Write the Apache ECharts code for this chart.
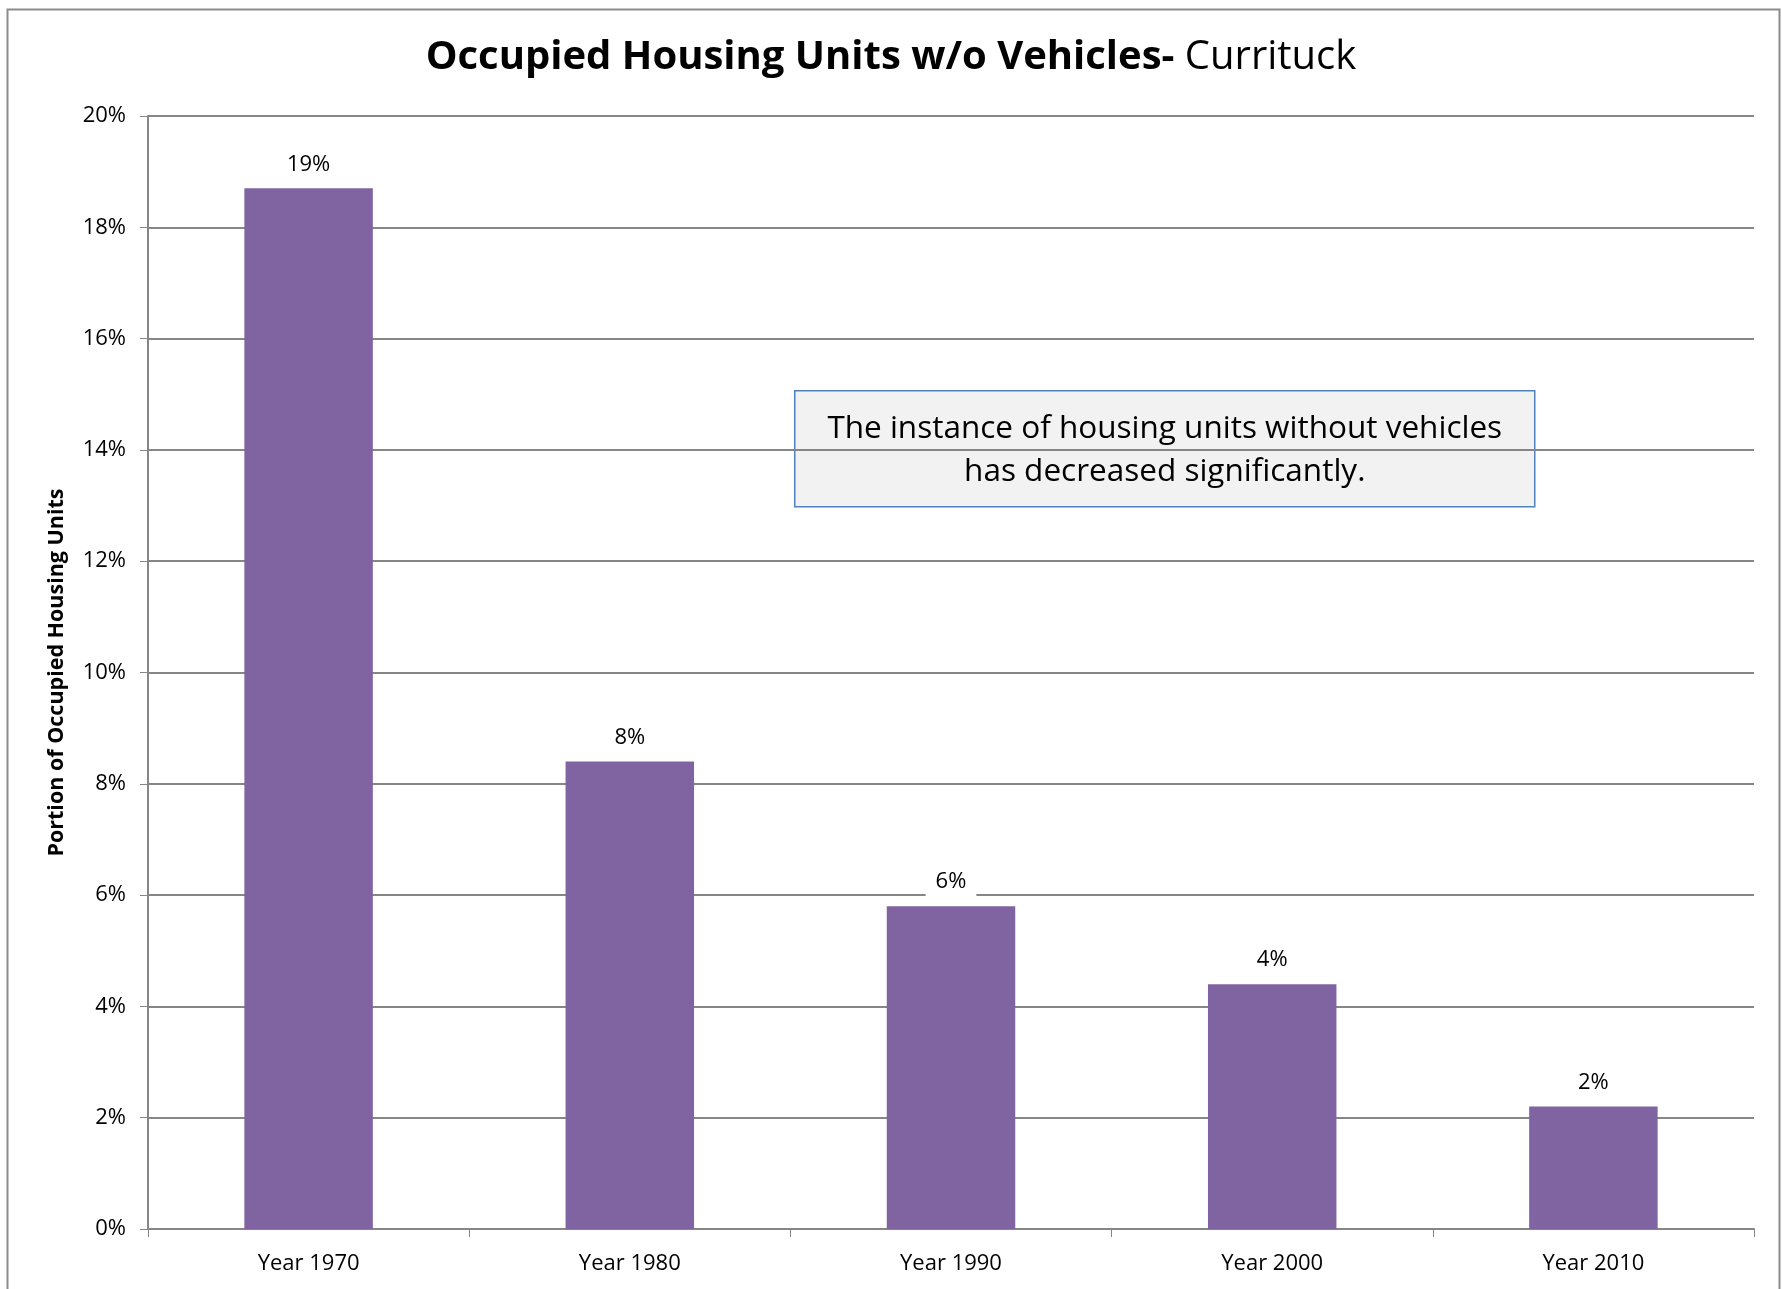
<!DOCTYPE html>
<html>
<head>
<meta charset="utf-8">
<title>Occupied Housing Units w/o Vehicles - Currituck</title>
<script src="https://cdn.jsdelivr.net/npm/echarts@6/dist/echarts.min.js"></script>
<style>
  html, body { margin: 0; padding: 0; background: #ffffff; }
  #chart { width: 1782px; height: 1289px; }
</style>
</head>
<body>
<div id="chart"></div>
<script>
// Census years shown along the x axis
const categories = ['Year 1970', 'Year 1980', 'Year 1990', 'Year 2000', 'Year 2010'];
// Share of occupied housing units with no vehicle available (fraction)
const shareNoVehicle = [0.187, 0.084, 0.058, 0.044, 0.022];
// Value axis range and step
const yMin = 0;
const yMax = 0.20;
const yStep = 0.02;

const FONT = '"Open Sans", "Noto Sans", sans-serif';
const AXIS_GREY = '#868686';

const pct = v => Math.round(v * 100) + '%';

const chart = echarts.init(document.getElementById('chart'), null, { renderer: 'canvas' });

chart.setOption({
  backgroundColor: '#ffffff',
  animation: false,
  title: {
    text: '{b|Occupied Housing Units w/o Vehicles-}{n| Currituck}',
    left: 'center',
    top: 33,
    textStyle: {
      rich: {
        b: { fontFamily: FONT, fontWeight: 'bold', fontSize: 40, color: '#000000' },
        n: { fontFamily: FONT, fontWeight: 'normal', fontSize: 40, color: '#000000' }
      }
    }
  },
  grid: { left: 148, right: 28, top: 116, bottom: 60, containLabel: false },
  xAxis: {
    type: 'category',
    data: categories,
    axisLine: { show: true, lineStyle: { color: AXIS_GREY, width: 2 } },
    axisTick: { show: true, alignWithLabel: false, length: 8, lineStyle: { color: AXIS_GREY, width: 1 } },
    axisLabel: { color: '#000000', fontFamily: FONT, fontSize: 22, margin: 24 },
    splitLine: { show: false }
  },
  yAxis: {
    type: 'value',
    min: yMin,
    max: yMax,
    interval: yStep,
    name: 'Portion of Occupied Housing Units',
    nameLocation: 'middle',
    nameGap: 80,
    nameRotate: 90,
    nameTextStyle: { fontFamily: FONT, fontWeight: 'bold', fontSize: 21.5, color: '#000000' },
    axisLine: { show: true, lineStyle: { color: AXIS_GREY, width: 2 } },
    axisTick: { show: true, length: 8, lineStyle: { color: AXIS_GREY, width: 1 } },
    axisLabel: { color: '#000000', fontFamily: FONT, fontSize: 22, margin: 22, formatter: v => pct(v) },
    splitLine: { show: true, lineStyle: { color: AXIS_GREY, width: 2 } }
  },
  series: [{
    type: 'bar',
    data: shareNoVehicle,
    barCategoryGap: '60%',
    itemStyle: { color: '#8064A2' },
    label: {
      show: true,
      position: 'top',
      distance: 8,
      formatter: p => pct(p.value),
      fontFamily: FONT,
      fontSize: 22,
      color: '#000000',
      backgroundColor: '#ffffff',
      padding: [5, 10]
    }
  }],
  graphic: [
    {
      // outer chart frame
      type: 'rect',
      left: 5,
      top: 7,
      shape: { width: 1772, height: 1290 },
      style: { fill: 'none', stroke: '#8c8c8c', lineWidth: 2 },
      silent: true
    },
    {
      // call-out box
      type: 'group',
      left: 794,
      top: 390,
      children: [
        {
          type: 'rect',
          shape: { x: 0, y: 0, width: 740, height: 116 },
          style: { fill: '#f2f2f2', stroke: '#4f81bd', lineWidth: 1.5 }
        },
        {
          type: 'text',
          x: 370,
          y: 60,
          style: {
            text: 'The instance of housing units without vehicles\nhas decreased significantly.',
            fontFamily: FONT,
            fontSize: 31.5,
            lineHeight: 43,
            fill: '#000000',
            align: 'center',
            verticalAlign: 'middle'
          }
        }
      ]
    }
  ]
});
</script>
</body>
</html>
